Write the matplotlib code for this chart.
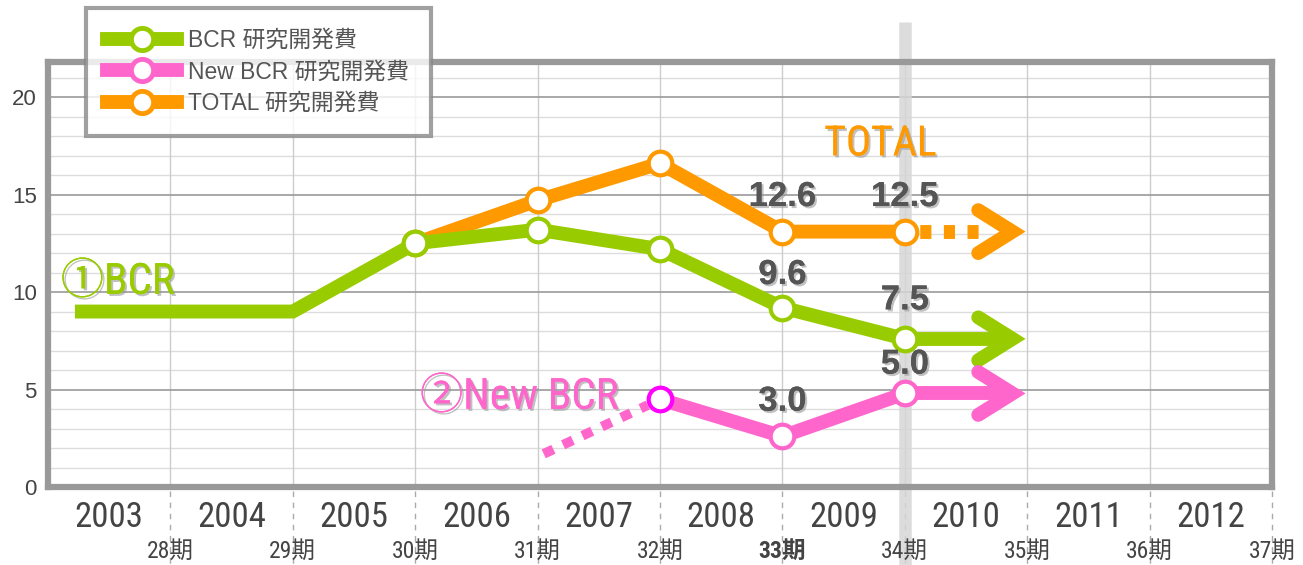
import matplotlib
matplotlib.use("Agg")
import matplotlib.pyplot as plt
from matplotlib import font_manager
from matplotlib.lines import Line2D
import matplotlib.patheffects as pe
import numpy as np

# ---------------- data ----------------
years = ["2003", "2004", "2005", "2006", "2007", "2008", "2009", "2010", "2011", "2012"]
periods = ["28期", "29期", "30期", "31期", "32期", "33期", "34期", "35期", "36期", "37期"]
period_pos = [28, 29, 30, 31, 32, 33, 34, 35, 36, 37]

bcr_x = [27.22, 29, 30, 31, 32, 33, 34]
bcr_y = [9.0, 9.0, 12.5, 13.2, 12.2, 9.2, 7.6]
total_x = [30, 31, 32, 33, 34]
total_y = [12.5, 14.7, 16.6, 13.1, 13.1]
new_x = [32, 33, 34]
new_y = [4.5, 2.6, 4.8]
new_lead_x = [31.05, 31.9]
new_lead_y = [1.7, 4.2]

value_labels = ["12.6", "12.5", "9.6", "7.5", "5.0", "3.0"]
value_label_x = [33, 34, 33, 34, 34, 33]
value_label_y = [14.9, 14.9, 10.9, 9.6, 6.3, 4.4]

legend_labels = ["BCR 研究開発費", "New BCR 研究開発費", "TOTAL 研究開発費"]

GREEN = "#99CC00"
PINK = "#FF66CC"
MAGENTA = "#FF00FF"
ORANGE = "#FF9900"
FRAME = "#999999"
TXT = "#555555"

# ---------------- fonts ----------------
avail = {f.name for f in font_manager.fontManager.ttflist}
narrow = None
for cand in ["Liberation Sans Narrow", "Roboto Condensed", "Open Sans Condensed", "DejaVu Sans Condensed"]:
    if cand in avail:
        narrow = cand
        break
if narrow is None:
    narrow = "Liberation Sans"
CJK = "Noto Sans CJK JP"
plt.rcParams["font.family"] = ["Liberation Sans", CJK, "DejaVu Sans"]

W, H = 1303, 565
fig = plt.figure(figsize=(W / 100, H / 100), dpi=100)
ax = fig.add_axes([48 / W, (H - 487) / H, (1272 - 48) / W, (487 - 62) / H])

ax.set_xlim(27, 37)
ax.set_ylim(0, 21.8)

# grid
for yv in range(1, 22):
    if yv % 5 == 0:
        ax.axhline(yv, color="#9a9a9a", lw=1.2, zorder=1)
    else:
        ax.axhline(yv, color="#dddddd", lw=1.0, zorder=0.8)
for xv in period_pos[:-1]:
    ax.axvline(xv, color="#cccccc", lw=1.0, zorder=0.9)

# highlight band at current period
ax.axvline(34, ymin=-0.184, ymax=1.094, color="#d6d6d6", lw=9, alpha=0.85,
           zorder=1.5, clip_on=False, solid_capstyle="butt")

# frame
for s in ax.spines.values():
    s.set_color(FRAME)
    s.set_linewidth(4.5)

ax.set_yticks([0, 5, 10, 15, 20])
ax.set_yticklabels(["0", "5", "10", "15", "20"], fontsize=16, color="#444444",
                   family=["Liberation Sans"])
ax.tick_params(axis="y", length=0, pad=8)
ax.set_xticks([])

# ---------------- series ----------------
lw = 10
mk = dict(marker="o", ms=17, mfc="white", mew=3)
tip = 0.88
back = 0.60

# TOTAL
ax.plot(total_x, total_y, color=ORANGE, lw=lw, solid_joinstyle="round",
        solid_capstyle="round", zorder=3)
ax.plot(total_x, total_y, ls="none", mec=ORANGE, zorder=4, **mk)
ax.plot([total_x[-1], total_x[-1] + 0.66], [total_y[-1], total_y[-1]], color=ORANGE,
        lw=lw, ls=(0.6, (0.8, 0.9)), dash_capstyle="butt", zorder=3)
ax.plot([total_x[-1] + back, total_x[-1] + tip, total_x[-1] + back],
        [total_y[-1] + 1.1, total_y[-1], total_y[-1] - 1.1], color=ORANGE, lw=lw,
        solid_capstyle="round", solid_joinstyle="miter", zorder=3)

# BCR
ax.plot(bcr_x, bcr_y, color=GREEN, lw=lw, solid_joinstyle="miter",
        solid_capstyle="butt", zorder=5)
ax.plot(bcr_x[2:], bcr_y[2:], ls="none", mec=GREEN, zorder=6, **mk)
ax.plot([bcr_x[-1], bcr_x[-1] + tip - 0.03], [bcr_y[-1], bcr_y[-1]], color=GREEN, lw=lw,
        solid_capstyle="butt", zorder=5)
ax.plot([bcr_x[-1] + back, bcr_x[-1] + tip, bcr_x[-1] + back],
        [bcr_y[-1] + 1.1, bcr_y[-1], bcr_y[-1] - 1.1], color=GREEN, lw=lw,
        solid_capstyle="round", solid_joinstyle="miter", zorder=5)

# New BCR
ax.plot(new_lead_x, new_lead_y, color=PINK, lw=7, ls=(0, (1.1, 1.1)),
        dash_capstyle="butt", zorder=3)
ax.plot(new_x, new_y, color=PINK, lw=lw, solid_joinstyle="round", zorder=5)
ax.plot(new_x[1:], new_y[1:], ls="none", mec=PINK, zorder=6, **mk)
ax.plot(new_x[:1], new_y[:1], ls="none", mec=MAGENTA, zorder=6, **mk)
ax.plot([new_x[-1], new_x[-1] + tip - 0.03], [new_y[-1], new_y[-1]], color=PINK, lw=lw,
        solid_capstyle="butt", zorder=5)
ax.plot([new_x[-1] + back, new_x[-1] + tip, new_x[-1] + back],
        [new_y[-1] + 1.1, new_y[-1], new_y[-1] - 1.1], color=PINK, lw=lw,
        solid_capstyle="round", solid_joinstyle="miter", zorder=5)

# ---------------- annotations ----------------
shadow = [pe.withSimplePatchShadow(offset=(1.5, -1.5), shadow_rgbFace="#999999", alpha=0.6),
          pe.Normal()]
for t, xv, yv in zip(value_labels, value_label_x, value_label_y):
    ax.text(xv, yv, t, ha="center", va="center", fontsize=25, fontweight="bold",
            color=TXT, family=["Liberation Sans"], path_effects=shadow, zorder=8)

ax.text(27.57, 10.5, "①BCR", ha="center", va="center", fontsize=31, color=GREEN,
        family=[narrow, CJK], path_effects=shadow, zorder=8)
ax.text(30.85, 4.6, "②New BCR", ha="center", va="center", fontsize=31, color=PINK,
        family=[narrow, CJK], path_effects=shadow, zorder=8)
ax.text(33.8, 17.6, "TOTAL", ha="center", va="center", fontsize=30, color=ORANGE,
        family=[narrow, CJK], path_effects=shadow, zorder=8)

# x labels
xt = ax.get_xaxis_transform()
for i, y in enumerate(years):
    ax.text(27.5 + i, -0.072, y, transform=xt, ha="center", va="center", fontsize=25,
            color="#444444", family=[narrow, CJK], clip_on=False)
for p, lab in zip(period_pos, periods):
    ax.text(p, -0.152, lab, transform=xt, ha="center", va="center", fontsize=17,
            color="#444444", family=[narrow, CJK], clip_on=False,
            fontweight="bold" if lab == "33期" else "normal")
    ax.plot([p, p], [-0.01, -0.184], transform=xt, color="#aaaaaa", lw=1,
            ls=(0, (4, 4)), clip_on=False, zorder=0.5)

# ---------------- legend ----------------
handles = [Line2D([], [], color=c, lw=lw, marker="o", ms=16, mfc="white", mec=c, mew=3.5)
           for c in (GREEN, PINK, ORANGE)]
leg = fig.legend(handles, legend_labels, loc="upper left",
                 bbox_to_anchor=(86 / W, 1 - 8 / H), bbox_transform=fig.transFigure,
                 fontsize=16.5, frameon=True, fancybox=False, handlelength=3.05,
                 handletextpad=0.5, labelspacing=0.36, borderpad=0.92, borderaxespad=0)
leg.get_frame().set_edgecolor("#888888")
leg.get_frame().set_linewidth(3)
for t in leg.get_texts():
    t.set_color(TXT)

fig.savefig("out.png", dpi=100)
